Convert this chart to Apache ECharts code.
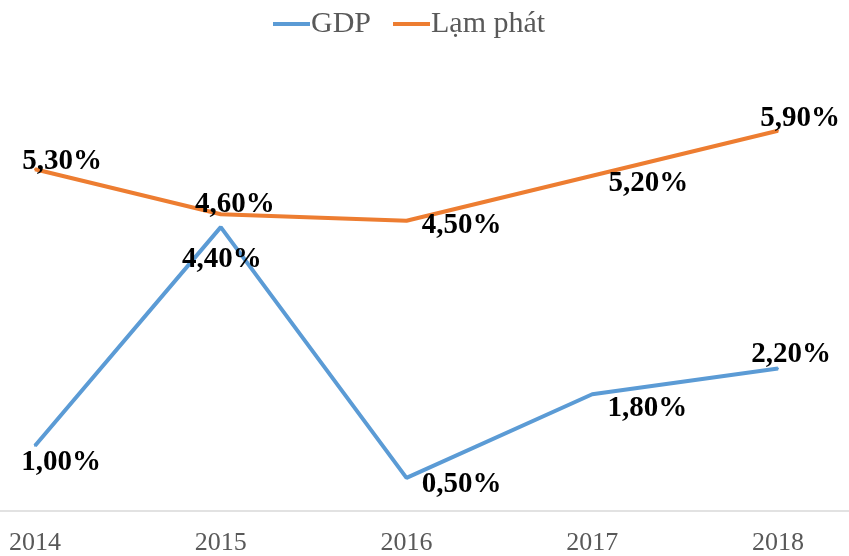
<!DOCTYPE html>
<html><head><meta charset="utf-8">
<script src="https://cdn.jsdelivr.net/npm/echarts@6/dist/echarts.min.js"></script>
<style>html,body{margin:0;padding:0;background:#fff}#c{width:849px;height:556px}</style>
</head><body><div id="c"></div>
<script>
const years = ['2014','2015','2016','2017','2018'];
const gdp = [1.0, 4.4, 0.5, 1.8, 2.2];
const inflation = [5.3, 4.6, 4.5, 5.2, 5.9];
const seriesNames = ['GDP', 'Lạm phát'];

// label offsets (style only)
const gdpLabelOffsets = [[26,17],[1,32],[55,7],[55,14],[13,-14]];
const infLabelOffsets = [[27,-8],[14,-10],[55,5],[56,8],[22,-12]];

const fmt = v => v.toFixed(2).replace('.', ',') + '%';
function build(vals, offs){
  return vals.map((v,i)=>({value:v, label:{offset:offs[i]}}));
}
const labelStyle = {show:true, position:'inside', fontFamily:'Liberation Serif', fontWeight:'bold', fontSize:29, color:'#000', formatter:p=>fmt(p.value)};

const chart = echarts.init(document.getElementById('c'));
chart.setOption({
  animation:false,
  legend:{top:4, left:268, itemWidth:37, itemHeight:4, itemGap:22, icon:'rect',
    textStyle:{fontFamily:'Liberation Serif', fontSize:30, color:'#595959', padding:[0,0,0,-4]},
    data:seriesNames},
  grid:[
    {left:35, right:71, top:60, bottom:45, containLabel:false},
    {left:0, right:0, top:60, bottom:45, containLabel:false}
  ],
  xAxis:[
    {type:'category', gridIndex:0, data:years, boundaryGap:false,
      axisLine:{show:false}, axisTick:{show:false},
      axisLabel:{fontFamily:'Liberation Serif', fontSize:26, color:'#595959', margin:20}},
    {type:'category', gridIndex:1, data:years, boundaryGap:false,
      axisLine:{lineStyle:{color:'#d9d9d9', width:1.5}}, axisTick:{show:false}, axisLabel:{show:false}}
  ],
  yAxis:[
    {type:'value', gridIndex:0, min:0, max:7, show:false, splitLine:{show:false}},
    {type:'value', gridIndex:1, min:0, max:7, show:false, splitLine:{show:false}}
  ],
  series:[
    {name:seriesNames[0], type:'line', data:build(gdp, gdpLabelOffsets), symbol:'circle', symbolSize:2, showSymbol:true,
      lineStyle:{color:'#5B9BD5', width:4}, itemStyle:{color:'#5B9BD5'}, label:labelStyle},
    {name:seriesNames[1], type:'line', data:build(inflation, infLabelOffsets), symbol:'circle', symbolSize:2, showSymbol:true,
      lineStyle:{color:'#ED7D31', width:4}, itemStyle:{color:'#ED7D31'}, label:labelStyle}
  ]
});
</script></body></html>
